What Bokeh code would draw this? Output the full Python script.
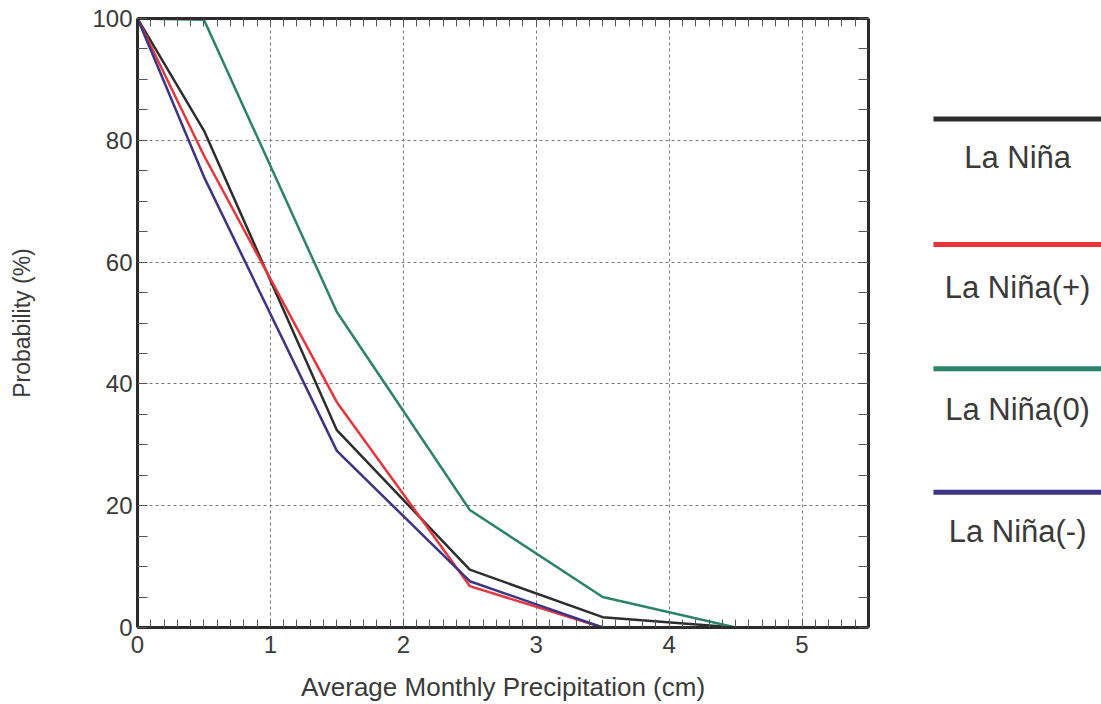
from bokeh.plotting import figure
from bokeh.models import LinearAxis, SingleIntervalTicker, Range1d
from bokeh.layouts import row
from bokeh.embed import file_html
from bokeh.resources import INLINE
from bokeh.core.properties import value

# ---- data ----
precip = [0, 0.5, 1.5, 2.5, 3.5, 4.5, 5.5]
la_nina = [100, 81.6, 32.4, 9.5, 1.7, 0, 0]
la_nina_plus = [100, 77.5, 37.0, 6.8, 0, 0, 0]
la_nina_zero = [100, 99.8, 51.8, 19.3, 5.0, 0, 0]
la_nina_minus = [100, 74.0, 29.0, 7.6, 0, 0, 0]

series_names = ["La Niña", "La Niña(+)", "La Niña(0)", "La Niña(-)"]
series_values = [la_nina, la_nina_plus, la_nina_zero, la_nina_minus]
series_colors = ["#2d2d2d", "#e8353a", "#2b836c", "#3b3487"]

x_label = "Average Monthly Precipitation (cm)"
y_label = "Probability (%)"

FONT = "Liberation Sans"
TXT = "#3a3a3a"
AX = "#2b2b2b"

p = figure(width=888, height=704,
           x_range=Range1d(0, 5.5), y_range=Range1d(0, 100),
           output_backend="svg", toolbar_location=None,
           min_border_left=137, min_border_right=20,
           min_border_top=18, min_border_bottom=74,
           x_axis_label=x_label, y_axis_label=y_label)
p.outline_line_color = None
p.background_fill_color = "white"
p.border_fill_color = "white"

xt = SingleIntervalTicker(interval=1, num_minor_ticks=10)
yt = SingleIntervalTicker(interval=20, num_minor_ticks=4)

bottom = p.below[0]
left = p.left[0]
bottom.ticker = xt
left.ticker = yt
p.xgrid.ticker = xt
p.ygrid.ticker = yt

top = LinearAxis(ticker=xt)
right = LinearAxis(ticker=yt)
top.major_label_overrides = {i: "" for i in range(0, 6)}
right.major_label_overrides = {i: "" for i in range(0, 101, 20)}
p.add_layout(top, "above")
p.add_layout(right, "right")

for ax in [bottom, left, top, right]:
    ax.axis_line_width = 3
    ax.axis_line_color = AX
    ax.major_tick_in = 0
    ax.major_tick_out = 0
    ax.minor_tick_out = 0
    ax.minor_tick_line_color = "#555555"
    ax.minor_tick_line_width = 1
    ax.major_label_text_font = FONT
    ax.major_label_text_font_size = "24px"
    ax.major_label_text_color = TXT
    ax.axis_label_text_font = FONT
    ax.axis_label_text_font_style = "normal"
    ax.axis_label_text_color = TXT

bottom.minor_tick_in = 8
top.minor_tick_in = 8
left.minor_tick_in = 10
right.minor_tick_in = 10
top.major_label_standoff = 0
right.major_label_standoff = 0

bottom.major_label_standoff = 8
bottom.axis_label_text_font_size = "26px"
bottom.axis_label_standoff = 16
left.major_label_standoff = 5
left.axis_label_text_font_size = "23px"
left.axis_label_standoff = 54

for g in [p.xgrid[0], p.ygrid[0]]:
    g.grid_line_color = "#7a7a7a"
    g.grid_line_dash = "3 3"
    g.grid_line_width = 1

for vals, col in zip(series_values, series_colors):
    p.line(precip, vals, line_color=col, line_width=2.5)

# ---- legend panel (its frame is aligned with the main frame) ----
leg = figure(width=213, height=704, x_range=Range1d(0, 1), y_range=Range1d(0, 1),
             output_backend="svg", toolbar_location=None, min_border=0)
leg.axis.visible = False
leg.grid.visible = False
leg.outline_line_color = None
leg.background_fill_color = "white"
leg.border_fill_color = "white"

line_y = [0.835, 0.629, 0.425, 0.222]
text_y = [0.771, 0.559, 0.358, 0.158]
leg.segment(x0=[0.211] * 4, y0=line_y, x1=[1.0] * 4, y1=line_y,
            line_color=series_colors, line_width=5)
leg.text(x=[0.606] * 4, y=text_y, text=series_names,
         text_align="center", text_baseline="middle",
         text_font=value(FONT), text_font_size="31px", text_color=TXT)

layout = row(p, leg)
open("out.html", "w").write(file_html(layout, INLINE))
